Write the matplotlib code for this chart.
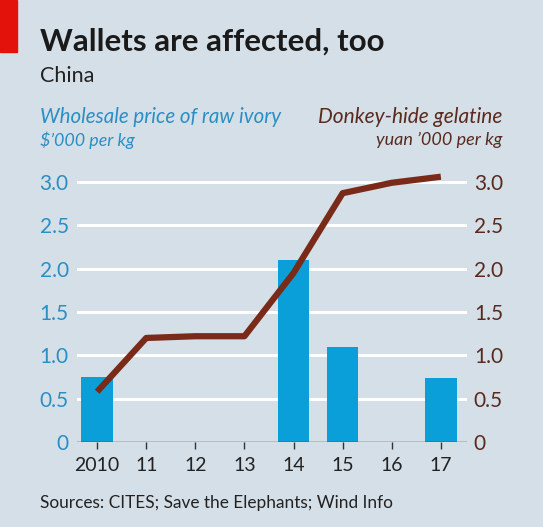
import matplotlib.pyplot as plt
from matplotlib.patches import Rectangle

plt.rcParams['font.family'] = ['Lato', 'DejaVu Sans']

years = [2010, 2011, 2012, 2013, 2014, 2015, 2016, 2017]
year_labels = ["2010", "11", "12", "13", "14", "15", "16", "17"]
ivory_years = [2010, 2014, 2015, 2017]
ivory_price = [0.75, 2.10, 1.10, 0.74]
gelatine_price = [0.58, 1.20, 1.22, 1.22, 1.95, 2.87, 2.99, 3.06]
yticks = [0, 0.5, 1.0, 1.5, 2.0, 2.5, 3.0]
ytick_labels = ["0", "0.5", "1.0", "1.5", "2.0", "2.5", "3.0"]

bg = "#d5dfe7"
blue = "#0a9fd8"
blue_text = "#2a8fc4"
brown = "#7a2a18"
brown_text = "#5a2a1f"
dark = "#222222"

fig = plt.figure(figsize=(5.43, 5.27), dpi=100, facecolor=bg)
ax = fig.add_axes([0.1418, 0.1613, 0.718, 0.5264])
ax.set_facecolor(bg)

ax.set_xlim(2009.59, 2017.53)
ax.set_ylim(0, 3.2)
for y in yticks[1:]:
    ax.axhline(y, color="white", lw=2.2, zorder=1)

ax.bar(ivory_years, ivory_price, width=0.64, color=blue, zorder=2)
ax.plot(years, gelatine_price, color=brown, lw=4.5, solid_capstyle="butt", zorder=3, clip_on=False)
ax.axhline(0, color="#333333", lw=1.0, zorder=4)

for s in ax.spines.values():
    s.set_visible(False)

ax.set_xticks(years)
ax.set_xticklabels(year_labels, fontsize=14, color=dark)
ax.tick_params(axis="x", length=5, width=1, color="#333333", pad=6)

ax.set_yticks(yticks)
ax.set_yticklabels(ytick_labels, fontsize=15, color=blue_text)
ax.tick_params(axis="y", length=0, pad=6)

ax2 = ax.twinx()
ax2.set_ylim(0, 3.2)
ax2.set_yticks(yticks)
ax2.set_yticklabels(ytick_labels, fontsize=15, color=brown_text)
ax2.tick_params(axis="y", length=0, pad=5)
for s in ax2.spines.values():
    s.set_visible(False)

fig.patches.append(Rectangle((0, 1 - 52 / 527), 17 / 543, 52 / 527, transform=fig.transFigure,
                             color="#e3120b", zorder=5))

fig.text(40 / 543, 1 - 42 / 527, "Wallets are affected, too", fontsize=22.5, fontweight="bold",
         color="#1a1a1a", va="center")
fig.text(40 / 543, 1 - 76 / 527, "China", fontsize=15.5, color=dark, va="center")
fig.text(40 / 543, 1 - 117 / 527, "Wholesale price of raw ivory", fontsize=14.8, style="italic",
         color=blue_text, va="center")
fig.text(40 / 543, 1 - 140 / 527, "$\u2019000 per kg", fontsize=12.9, style="italic",
         color=blue_text, va="center")
fig.text(502 / 543, 1 - 117 / 527, "Donkey-hide gelatine", fontsize=15, style="italic",
         color=brown_text, va="center", ha="right")
fig.text(502 / 543, 1 - 140 / 527, "yuan \u2019000 per kg", fontsize=13, style="italic",
         color=brown_text, va="center", ha="right")
fig.text(40 / 543, 1 - 503 / 527, "Sources: CITES; Save the Elephants; Wind Info", fontsize=12.4,
         color=dark, va="center")

fig.savefig("out.png", dpi=100, facecolor=bg)
